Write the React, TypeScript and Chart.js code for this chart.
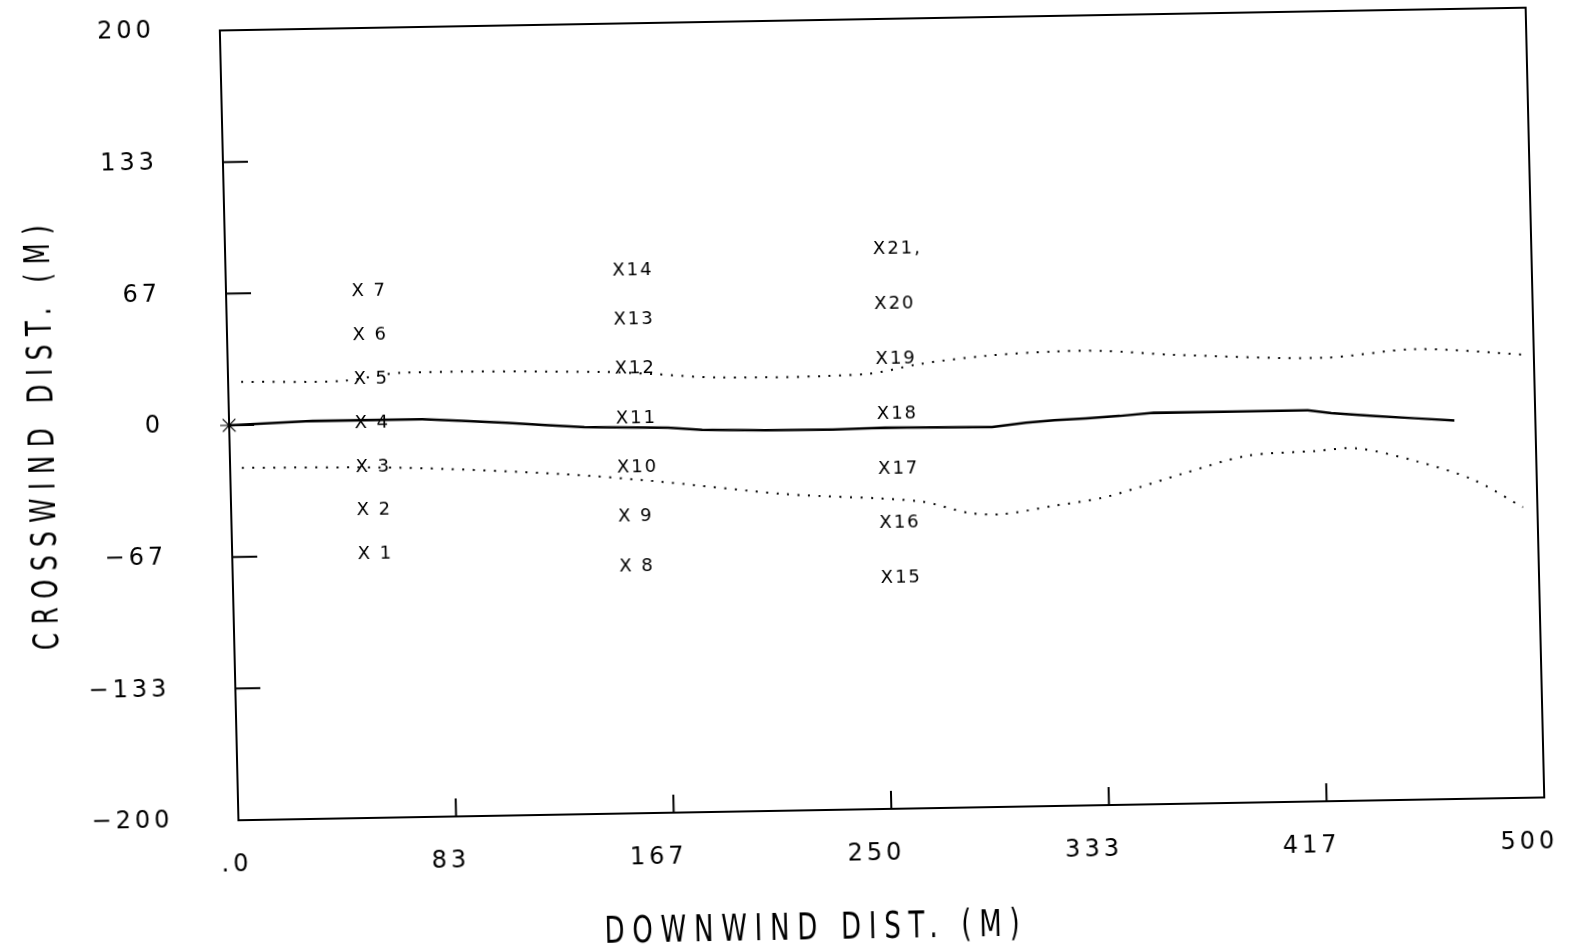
import React, { useEffect, useRef } from 'react';
import { Chart, registerables } from 'chart.js';

Chart.register(...registerables);

// ---- axis ticks ----
const xTickValues = [0, 83.333, 166.667, 250, 333.333, 416.667, 500];
const xTickLabels = ['.0', '83', '167', '250', '333', '417', '500'];
const yTickValues = [-200, -133.333, -66.667, 0, 66.667, 133.333, 200];
const yTickLabels = ['\u2212200', '\u2212133', '\u221267', '0', '67', '133', '200'];

// ---- plume centerline (solid) ----
const centerX = [0, 32, 74, 89, 106, 121, 136, 168, 181, 205, 231, 251, 292, 305, 316, 328, 341, 354, 384, 413, 422, 439, 454, 469];
const centerY = [0, 1.5, 1.4, 0.2, -1.1, -2.6, -4.0, -5.1, -6.4, -7.2, -7.5, -7.0, -7.6, -5.7, -4.7, -4.0, -3.1, -1.8, -1.9, -1.9, -3.5, -5.4, -6.9, -8.3];

// ---- plume upper edge (dotted) ----
const upperX = [5, 43.5, 66.6, 143, 162, 188, 244, 265, 290, 316, 335, 362, 419, 455, 497];
const upperY = [21.9, 21.5, 25.1, 23.8, 22.3, 19.9, 20.3, 25.0, 28.5, 30.1, 30.0, 27.4, 24.5, 28.1, 24.3];

// ---- plume lower edge (dotted) ----
const lowerX = [4.5, 66, 127, 165, 212, 263.5, 282.5, 295, 314, 333.5, 348, 364, 389, 415.5, 431.5, 454, 475.5, 494.5];
const lowerY = [-21.6, -23, -27.6, -32.4, -39.7, -44.5, -50.9, -51.8, -48.2, -44.4, -39.3, -33.1, -24.5, -22.6, -21.6, -28.6, -38.4, -52.9];

// ---- receptors ----
const receptorX = [50, 50, 50, 50, 50, 50, 50, 150, 150, 150, 150, 150, 150, 150, 250, 250, 250, 250, 250, 250, 250];
const receptorY = [-66.7, -44.4, -22.2, 0, 22.2, 44.4, 66.7, -75, -50, -25, 0, 25, 50, 75, -83.3, -55.6, -27.8, 0, 27.8, 55.6, 83.3];
const receptorLabels = ['X 1', 'X 2', 'X 3', 'X 4', 'X 5', 'X 6', 'X 7', 'X 8', 'X 9', 'X10', 'X11', 'X12', 'X13', 'X14', 'X15', 'X16', 'X17', 'X18', 'X19', 'X20', 'X21,'];

// ---- source ----
const sourceX = [0];
const sourceY = [0];

const xTitle = 'DOWNWIND DIST. (M)';
const yTitle = 'CROSSWIND DIST. (M)';

const FONT = '"DejaVu Sans", "Liberation Sans", sans-serif';

const pts = (xs: number[], ys: number[]) => xs.map((x, i) => ({ x, y: ys[i] }));

function drawFitted(ctx: CanvasRenderingContext2D, text: string, cx: number, cy: number, targetW: number, fontPx: number, hScale: number, angle: number) {
  ctx.save();
  ctx.translate(cx, cy);
  ctx.rotate(angle);
  ctx.scale(hScale, 1);
  ctx.font = `normal ${fontPx}px ${FONT}`;
  (ctx as any).letterSpacing = '0px';
  const w = ctx.measureText(text).width;
  const n = text.length;
  const ls = (targetW / hScale - w) / (n - 1);
  (ctx as any).letterSpacing = `${ls}px`;
  const w2 = w + ls * (n - 1);
  ctx.fillStyle = '#000';
  ctx.textAlign = 'left';
  ctx.textBaseline = 'middle';
  ctx.fillText(text, -w2 / 2, 0);
  ctx.restore();
}

const framePlugin = {
  id: 'frameTicks',
  beforeDraw(chart: any) {
    chart.ctx.letterSpacing = '4px';
  },
  afterDatasetsDraw(chart: any) {
    const { ctx, chartArea: a, scales } = chart;
    ctx.save();
    ctx.letterSpacing = '0px';
    ctx.strokeStyle = '#000';
    ctx.lineWidth = 2;
    ctx.strokeRect(a.left, a.top, a.right - a.left, a.bottom - a.top);
    ctx.beginPath();
    yTickValues.forEach((v) => {
      if (v > -200 && v < 200) {
        const p = scales.y.getPixelForValue(v);
        ctx.moveTo(a.left, p);
        ctx.lineTo(a.left + 25, p);
      }
    });
    xTickValues.forEach((v) => {
      if (v > 0 && v < 500) {
        const p = scales.x.getPixelForValue(v);
        ctx.moveTo(p, a.bottom);
        ctx.lineTo(p, a.bottom - 18);
      }
    });
    ctx.stroke();

    // receptor labels
    const meta = chart.getDatasetMeta(3);
    ctx.font = `normal 18px ${FONT}`;
    ctx.letterSpacing = '2px';
    ctx.fillStyle = '#000';
    ctx.textAlign = 'left';
    ctx.textBaseline = 'middle';
    const wX = ctx.measureText('X').width - 2;
    meta.data.forEach((el: any, i: number) => {
      ctx.fillText(receptorLabels[i], el.x - wX / 2 + 1, el.y);
    });
    ctx.restore();
  },
  afterDraw(chart: any) {
    const { ctx, chartArea: a } = chart;
    drawFitted(ctx, xTitle, a.left + 571, a.bottom + 119, 415, 37, 0.7, 0);
    drawFitted(ctx, yTitle, a.left - 185, a.top + 404, 425, 35, 0.7, -Math.PI / 2);
    ctx.letterSpacing = '0px';
  },
};

export default function App() {
  const ref = useRef<HTMLCanvasElement | null>(null);

  useEffect(() => {
    if (!ref.current) return;
    const tickFont = { family: FONT, size: 24, weight: 'normal' as any };
    const chart = new Chart(ref.current, {
      type: 'scatter',
      data: {
        datasets: [
          {
            data: pts(centerX, centerY),
            showLine: true,
            borderColor: '#000',
            borderWidth: 2.5,
            pointRadius: 0,
            tension: 0,
          },
          {
            data: pts(upperX, upperY),
            showLine: true,
            borderColor: '#000',
            borderWidth: 2,
            borderDash: [2, 8.5],
            pointRadius: 0,
            tension: 0.3,
          },
          {
            data: pts(lowerX, lowerY),
            showLine: true,
            borderColor: '#000',
            borderWidth: 2,
            borderDash: [2, 8.5],
            pointRadius: 0,
            tension: 0.3,
          },
          {
            data: pts(receptorX, receptorY),
            showLine: false,
            pointRadius: 0,
          },
          {
            data: pts(sourceX, sourceY),
            showLine: false,
            pointStyle: 'star',
            pointRadius: 9,
            borderColor: '#000',
            borderWidth: 1.2,
            backgroundColor: '#000',
            clip: false,
          },
        ],
      } as any,
      options: {
        responsive: false,
        animation: false,
        devicePixelRatio: 1,
        layout: { padding: { left: 0, right: 37, top: 19, bottom: 61 } },
        plugins: { legend: { display: false }, tooltip: { enabled: false } },
        scales: {
          x: {
            type: 'linear',
            min: 0,
            max: 500,
            grid: { display: false, drawTicks: false },
            border: { display: false },
            afterBuildTicks: (s: any) => {
              s.ticks = xTickValues.map((v) => ({ value: v }));
            },
            afterFit: (s: any) => {
              s.height = 80;
              s.paddingLeft = 0;
              s.paddingRight = 0;
            },
            ticks: {
              autoSkip: false,
              maxRotation: 0,
              minRotation: 0,
              align: 'end',
              labelOffset: 13,
              padding: 30,
              color: '#000',
              font: tickFont,
              callback: (_v: any, i: number) => xTickLabels[i],
            },
          },
          y: {
            type: 'linear',
            min: -200,
            max: 200,
            grid: { display: false, drawTicks: false },
            border: { display: false },
            afterBuildTicks: (s: any) => {
              s.ticks = yTickValues.map((v) => ({ value: v }));
            },
            afterFit: (s: any) => {
              s.width = 229;
              s.paddingTop = 0;
              s.paddingBottom = 0;
            },
            ticks: {
              autoSkip: false,
              padding: 65,
              color: '#000',
              font: tickFont,
              callback: (_v: any, i: number) => yTickLabels[i],
            },
          },
        },
      } as any,
      plugins: [framePlugin as any],
    });
    return () => chart.destroy();
  }, []);

  return (
    <div style={{ position: 'fixed', left: 0, top: 0, width: 1572, height: 950, background: '#fff', overflow: 'hidden' }}>
      <canvas
        ref={ref}
        width={1572}
        height={950}
        style={{
          display: 'block',
          width: 1572,
          height: 950,
          transformOrigin: '880px 412px',
          transform: 'matrix(0.99985, -0.01745, 0.02356, 0.99972, 0, 0)',
        }}
      />
    </div>
  );
}
